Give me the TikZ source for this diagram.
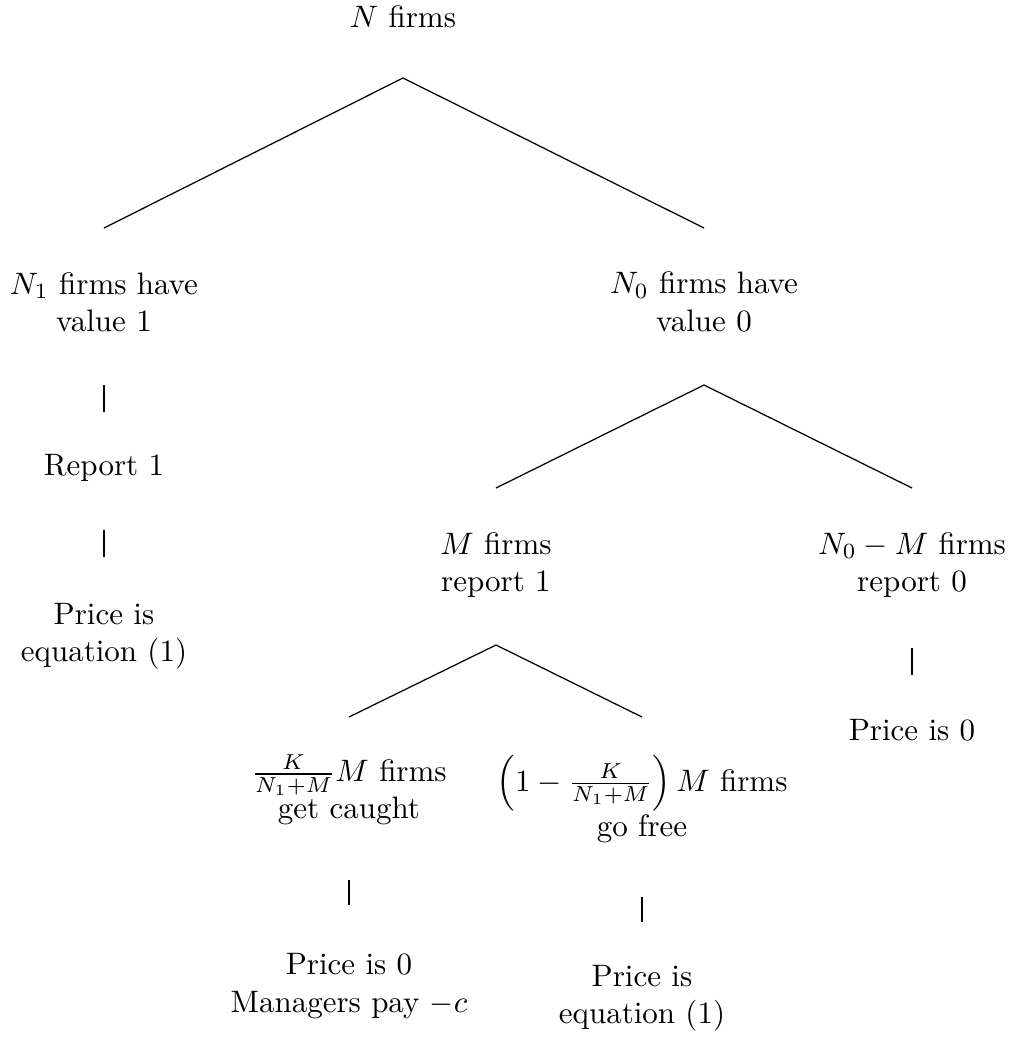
\documentclass[tikz,border=0pt]{standalone}
\usetikzlibrary{calc}
\begin{document}
\begin{tikzpicture}[x=0.3226pt,y=-0.3226pt,
  lbl/.style={align=center,inner sep=0pt,font=\normalsize},
  edge/.style={draw=black,line width=0.4pt}]
\useasboundingbox (0,0) rectangle (1013,1038);
% nodes
\node[lbl] (top) at (403,17) {$N$ firms};
\node[lbl] (n1) at (104,302) {$N_1$ firms have\\value 1};
\node[lbl] (n0) at (704,302) {$N_0$ firms have\\value 0};
\node[lbl] (rep) at (104,468) {Report 1};
\node[lbl] (pe1) at (104,636) {Price is\\equation (1)};
\node[lbl] (m1) at (496,565) {$M$ firms\\report 1};
\node[lbl] (m0) at (912,565) {$N_0-M$ firms\\report 0};
\node[lbl] (p0) at (912,730) {Price is 0};
\node[lbl] (caught) at (349,790) {$\frac{K}{N_1+M}M$ firms\\get caught};
\node[lbl] (free) at (642,799) {$\left(1-\frac{K}{N_1+M}\right)M$ firms\\go free};
\node[lbl] (pc) at (349,986) {Price is 0\\Managers pay $-c$};
\node[lbl] (pe2) at (642,998) {Price is\\equation (1)};
% edges
\draw[edge] ($(n1.center)+(0,-74)$) -- ($(top.center)+(0,61)$) -- ($(n0.center)+(0,-74)$);
\draw[edge] ($(n1.center)+(0,83)$) -- ($(rep.center)+(0,-56)$);
\draw[edge] ($(rep.center)+(0,62)$) -- ($(pe1.center)+(0,-79)$);
\draw[edge] ($(m1.center)+(0,-77)$) -- ($(n0.center)+(0,83)$) -- ($(m0.center)+(0,-77)$);
\draw[edge] ($(m0.center)+(0,83)$) -- ($(p0.center)+(0,-55)$);
\draw[edge] ($(caught.center)+(0,-73)$) -- ($(m1.center)+(0,80)$) -- ($(free.center)+(0,-82)$);
\draw[edge] ($(caught.center)+(0,90)$) -- ($(pc.center)+(0,-81)$);
\draw[edge] ($(free.center)+(0,98)$) -- ($(pe2.center)+(0,-76)$);
\end{tikzpicture}
\end{document}
